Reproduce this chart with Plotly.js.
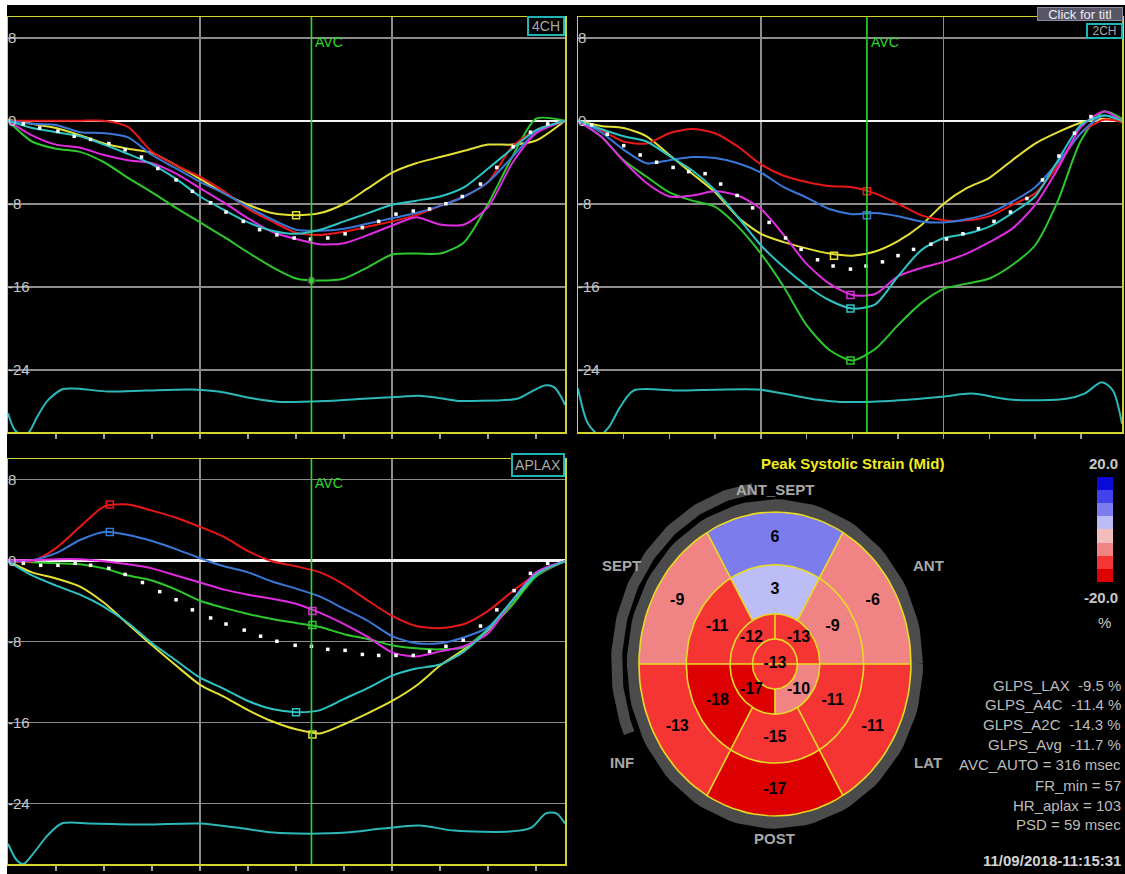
<!DOCTYPE html>
<html><head><meta charset="utf-8">
<script src="https://cdn.plot.ly/plotly-3.0.1.min.js"></script>
<style>html,body{margin:0;padding:0;background:#000;}#chart{width:1125px;height:874px;}</style>
</head><body><div id="chart"></div>
<script>
// ---------------- DATA ----------------
const avcMs = 316;
// 4CH
const time4CH = [0,25,50,75,100,125,150,175,200,225,250,275,300,325,350,375,400,425,450,475,500,525,550,580];
const red4CH = [0,0,0,0,0,-0.6,-3.0,-4.3,-5.4,-6.8,-8.5,-9.7,-10.8,-11.0,-10.7,-10.2,-9.7,-9.1,-8.2,-7.3,-5.9,-2.5,-0.9,0];
const blue4CH = [0,-0.3,-0.4,-1.1,-1.2,-1.6,-3.3,-4.6,-5.9,-7.0,-8.3,-9.5,-10.5,-10.6,-10.4,-9.9,-9.4,-8.9,-8.2,-7.3,-5.9,-3.5,-1.1,0];
const magenta4CH = [0,-1.4,-2.3,-2.6,-3.3,-3.8,-4.1,-5.1,-6.5,-7.9,-9.4,-10.7,-11.4,-11.9,-11.8,-11.0,-10.1,-9.3,-10.0,-10.0,-8.3,-4.1,-1.2,0];
const green4CH = [0,-2.0,-2.7,-3.0,-4.0,-5.5,-6.9,-8.4,-9.8,-11.2,-12.7,-14.1,-15.2,-15.4,-15.2,-14.1,-12.9,-12.8,-12.8,-11.7,-8.0,-3.5,0.2,0];
const cyan4CH = [0,-0.7,-1.1,-1.5,-2.3,-3.2,-4.2,-5.6,-7.3,-8.6,-9.8,-10.6,-10.9,-10.5,-9.7,-8.9,-8.1,-7.7,-7.3,-6.4,-4.6,-2.7,-0.9,0];
const yellow4CH = [0.1,-0.3,-0.7,-1.4,-2.2,-2.7,-3.1,-4.3,-5.6,-7.0,-8.1,-8.9,-9.1,-8.9,-8.0,-6.5,-5.0,-4.1,-3.5,-2.9,-2.3,-2.3,-1.9,0];
const avgTime4CH = [16,33,52,69,86,105,122,139,156,175,192,211,227,245,262,280,298,315,333,351,369,386,404,422,439,456,473,492,509,526,544,562];
const avg4CH = [-0.3,-0.7,-1.0,-1.5,-1.8,-2.2,-2.8,-3.5,-4.6,-5.7,-6.8,-7.9,-8.8,-9.7,-10.5,-11.0,-11.3,-11.4,-11.3,-10.9,-10.3,-9.7,-9.0,-8.7,-8.5,-8.0,-7.3,-6.1,-4.5,-2.5,-1.1,-0.3];
const ecgTime4CH = [0,7,15,22,30,41,56,68,105,143,192,219,257,283,333,370,409,428,447,469,485,530,545,560,569,577,580];
const ecg4CH = [-28.2,-29.8,-30.3,-30.0,-28.6,-27.0,-25.9,-25.8,-26.1,-26.0,-25.9,-26.1,-26.8,-27.1,-27.0,-26.8,-26.6,-26.5,-26.7,-27.0,-27.0,-26.8,-26.1,-25.5,-25.7,-26.8,-27.4];
const peakTime4CH = [300,316];
const peak4CH = [-9.1,-15.4];
const peakColor4CH = ['yellow','green'];

// 2CH
const time2CH = [0,25,50,75,100,125,150,175,200,225,250,275,300,325,350,375,400,425,450,475,500,525,550,575,595];
const red2CH = [0,-0.9,-2.0,-2.2,-1.2,-0.8,-1.2,-2.5,-4.2,-5.3,-5.9,-6.3,-6.4,-7.0,-8.0,-9.1,-9.6,-9.6,-9.2,-8.1,-7.0,-4.3,-1.2,0.1,-0.1];
const blue2CH = [0,-1.1,-2.8,-4.1,-3.8,-3.5,-3.6,-4.1,-5.0,-6.4,-7.4,-8.5,-9.0,-8.9,-9.2,-9.7,-9.8,-9.5,-8.9,-7.8,-6.4,-4.0,-1.2,0.5,0];
const magenta2CH = [0,-1.5,-3.9,-6.0,-7.3,-7.2,-6.8,-7.2,-8.5,-11.0,-13.8,-15.7,-16.8,-16.7,-15.0,-14.2,-13.6,-12.8,-11.7,-10.4,-8.1,-4.6,-0.6,0.9,0];
const cyan2CH = [0,-0.8,-1.5,-2.0,-3.4,-4.8,-6.7,-9.3,-12.0,-14.1,-15.9,-17.3,-18.1,-17.7,-15.0,-12.5,-11.3,-10.9,-10.2,-8.9,-7.3,-3.8,-0.4,0.5,0];
const green2CH = [0,-1.5,-3.8,-5.4,-6.9,-7.7,-8.3,-10.2,-12.8,-16.0,-19.7,-22.1,-23.1,-22.0,-19.7,-17.6,-16.2,-15.7,-15.2,-13.9,-12.0,-7.7,-1.9,0.9,0.2];
const yellow2CH = [0,-0.5,-0.7,-1.5,-3.3,-5.1,-6.9,-9.3,-10.9,-11.7,-12.3,-12.8,-13.0,-12.6,-11.6,-10.1,-8.0,-6.5,-5.5,-3.8,-2.2,-1.1,-0.2,0.2,-0.1];
const avgTime2CH = [15,32,50,68,86,104,121,139,156,174,191,209,227,244,262,279,298,315,333,350,367,386,403,421,438,455,473,491,508,526,543,561];
const avg2CH = [-0.4,-1.3,-2.4,-3.3,-4.0,-4.5,-4.9,-5.1,-6.1,-7.2,-8.4,-9.8,-11.3,-12.4,-13.4,-14.0,-14.3,-14.0,-13.6,-13.0,-12.4,-11.9,-11.4,-10.9,-10.4,-9.7,-8.8,-7.5,-5.7,-3.4,-1.2,0.4];
const ecgTime2CH = [0,11,24,34,46,61,108,197,224,263,286,340,398,430,476,534,554,573,585,595];
const ecg2CH = [-25.8,-29.2,-30.3,-29.5,-27.6,-26.0,-26.0,-25.9,-26.3,-26.9,-27.1,-27.0,-26.6,-26.3,-26.9,-26.8,-26.3,-25.2,-26.0,-29.2];
const peakTime2CH = [280,298,298,298,316,316];
const peak2CH = [-13.0,-16.8,-18.1,-23.1,-9.1,-6.8];
const peakColor2CH = ['yellow','magenta','cyan','green','blue','red'];

// APLAX
const timeLAX = [0,25,50,75,100,125,150,175,200,225,250,275,300,325,350,375,400,425,450,475,500,525,550,580];
const redLAX = [-0.1,-0.1,1.2,3.3,5.3,5.5,4.9,4.2,3.3,2.3,0.9,-0.1,-0.6,-1.2,-2.4,-4.0,-5.5,-6.5,-6.7,-6.3,-5.0,-3.1,-1.4,-0.1];
const blueLAX = [-0.1,0,0.7,2.0,2.8,2.5,1.9,1.1,0.2,-0.6,-1.2,-2.1,-2.8,-3.6,-4.8,-6.0,-7.5,-8.2,-8.2,-7.6,-6.6,-4.0,-1.2,-0.1];
const magentaLAX = [0,0,0.1,0.1,-0.1,-0.4,-0.8,-1.5,-2.2,-2.9,-3.4,-3.8,-4.3,-5.2,-6.3,-7.6,-9.1,-9.5,-9.0,-8.5,-7.2,-4.0,-1.2,-0.1];
const greenLAX = [-0.1,-0.2,-0.3,-0.4,-0.8,-1.5,-2.0,-2.9,-4.0,-4.7,-5.3,-5.8,-6.2,-6.6,-7.3,-7.8,-8.4,-8.7,-8.8,-8.6,-6.8,-4.4,-1.6,-0.1];
const cyanLAX = [-0.1,-1.5,-2.5,-3.4,-4.6,-6.2,-8.2,-9.9,-11.6,-12.7,-13.9,-14.7,-15.0,-14.8,-13.7,-12.6,-11.4,-10.7,-10.3,-9.0,-6.8,-4.0,-1.4,-0.1];
const yellowLAX = [-0.1,-1.2,-1.8,-2.6,-4.2,-6.3,-8.4,-10.4,-12.3,-13.5,-14.8,-15.9,-16.7,-17.1,-16.2,-15.1,-13.9,-12.4,-10.4,-8.8,-6.9,-4.4,-1.4,-0.1];
const avgTimeLAX = [16,34,52,70,86,105,122,140,158,175,192,211,227,246,263,280,299,316,333,351,369,386,404,422,439,456,474,492,509,527,544,562];
const avgLAX = [-0.3,-0.5,-0.5,-0.3,-0.5,-0.8,-1.4,-2.2,-3.1,-3.9,-4.9,-5.7,-6.3,-6.9,-7.5,-8.0,-8.4,-8.5,-8.8,-8.9,-9.3,-9.4,-9.4,-9.4,-9.0,-8.5,-7.9,-6.5,-4.9,-3.0,-1.3,-0.3];
const ecgTimeLAX = [0,9,16,26,41,56,86,143,200,238,276,314,352,390,428,465,522,545,560,571,580];
const ecgLAX = [-28.0,-29.6,-30.0,-29.0,-27.2,-26.0,-26.0,-26.1,-26.0,-26.4,-26.9,-27.0,-26.9,-26.5,-26.2,-26.7,-26.8,-26.4,-25.0,-25.0,-26.0];
const peakTimeLAX = [106,106,317,300,317,317];
const peakLAX = [5.5,2.8,-6.4,-15.0,-17.2,-5.0];
const peakColorLAX = ['red','blue','green','cyan','yellow','magenta'];

const yTickVals = [8,0,-8,-16,-24];
const yTickText = ['8','0','-8','-16','-24'];
const viewNames = ['4CH','2CH','APLAX'];

// Bullseye (peak systolic strain, %)
const wallNames = ['ANT_SEPT','ANT','LAT','POST','INF','SEPT'];
const basalStrain = [6,-6,-11,-17,-13,-9];
const midStrain = [3,-9,-11,-15,-18,-11];
const apicalStrain = [-13,-10,-17,-12];
const apexStrain = -13;
const scaleMin = -20, scaleMax = 20;
const scaleColors = ['#dc0000','#f53434','#f08484','#f5bcbc','#bcbcf6','#7c7cee','#4242ec','#0a0ad8'];
const statLines = ['GLPS_LAX\u00a0\u00a0-9.5 %','GLPS_A4C\u00a0\u00a0-11.4 %','GLPS_A2C\u00a0\u00a0-14.3 %','GLPS_Avg\u00a0\u00a0-11.7 %','AVC_AUTO = 316 msec','FR_min = 57','HR_aplax = 103','PSD = 59 msec'];
const stampText = '11/09/2018-11:15:31';

// ---------------- STYLE / LAYOUT ----------------
const W = 1125, H = 874;
const PX = p => p / W, PY = p => 1 - p / H;
const COL = {red:'#e81818', blue:'#3a78d8', magenta:'#e02ce0', green:'#2cc82c', cyan:'#2cc4c4', yellow:'#e4e034', white:'#ffffff', ecg:'#2cb8b8'};
const FONT = 'Liberation Sans, Arial, sans-serif';
const traces = [];

function panel(xa, ya, t, series, avgT, avg, ecgT, ecg, pT, pV, pC) {
  series.forEach(([vals, c]) => traces.push({type:'scatter', mode:'lines', x:t, y:vals, xaxis:xa, yaxis:ya,
    line:{color:COL[c], width:2, shape:'spline', smoothing:0.7}, hoverinfo:'skip'}));
  traces.push({type:'scatter', mode:'lines', x:ecgT, y:ecg, xaxis:xa, yaxis:ya,
    line:{color:COL.ecg, width:2, shape:'spline', smoothing:0.8}, hoverinfo:'skip'});
  traces.push({type:'scatter', mode:'markers', x:avgT, y:avg, xaxis:xa, yaxis:ya,
    marker:{color:'#ffffff', size:3.5, symbol:'square'}, hoverinfo:'skip'});
  traces.push({type:'scatter', mode:'markers', x:pT, y:pV, xaxis:xa, yaxis:ya,
    marker:{color:pC.map(c=>COL[c]), size:7, symbol:pC.map(c => (xa === 'x' && c === 'green') ? 'circle' : 'square-open'),
      line:{width:1.5}}, hoverinfo:'skip'});
}
panel('x','y', time4CH, [[yellow4CH,'yellow'],[green4CH,'green'],[red4CH,'red'],[blue4CH,'blue'],[magenta4CH,'magenta'],[cyan4CH,'cyan']],
  avgTime4CH, avg4CH, ecgTime4CH, ecg4CH, peakTime4CH, peak4CH, peakColor4CH);
panel('x2','y2', time2CH, [[yellow2CH,'yellow'],[green2CH,'green'],[red2CH,'red'],[blue2CH,'blue'],[magenta2CH,'magenta'],[cyan2CH,'cyan']],
  avgTime2CH, avg2CH, ecgTime2CH, ecg2CH, peakTime2CH, peak2CH, peakColor2CH);
panel('x3','y3', timeLAX, [[yellowLAX,'yellow'],[greenLAX,'green'],[redLAX,'red'],[blueLAX,'blue'],[magentaLAX,'magenta'],[cyanLAX,'cyan']],
  avgTimeLAX, avgLAX, ecgTimeLAX, ecgLAX, peakTimeLAX, peakLAX, peakColorLAX);

// ----- bullseye -----
const R = [1, 0.652, 0.33, 0.165];
const deg = Math.PI / 180;
function binColor(v) {
  let i = Math.floor((v - scaleMin) / ((scaleMax - scaleMin) / scaleColors.length));
  i = Math.max(0, Math.min(scaleColors.length - 1, i));
  return scaleColors[i];
}
function sector(r0, r1, a0, a1) {
  const xs = [], ys = [], n = 30;
  for (let k = 0; k <= n; k++) { const a = (a0 + (a1 - a0) * k / n) * deg; xs.push(r1 * Math.cos(a)); ys.push(r1 * Math.sin(a)); }
  for (let k = n; k >= 0; k--) { const a = (a0 + (a1 - a0) * k / n) * deg; xs.push(r0 * Math.cos(a)); ys.push(r0 * Math.sin(a)); }
  return [xs, ys];
}
function arc(r, a0, a1) {
  const xs = [], ys = [], n = 120;
  for (let k = 0; k <= n; k++) { const a = (a0 + (a1 - a0) * k / n) * deg; xs.push(r * Math.cos(a)); ys.push(r * Math.sin(a)); }
  return [xs, ys];
}
// gray rings
let g = arc(1.045, 0, 360);
traces.push({type:'scatter', mode:'lines', x:g[0], y:g[1], xaxis:'x4', yaxis:'y4', line:{color:'#4b4b4b', width:12}, hoverinfo:'skip'});
g = arc(1.165, 98, 203);
traces.push({type:'scatter', mode:'lines', x:g[0], y:g[1], xaxis:'x4', yaxis:'y4', line:{color:'#4b4b4b', width:11}, hoverinfo:'skip'});

const labX = [], labY = [], labV = [];
function addSeg(r0, r1, c, half, v, rl) {
  const s = sector(r0, r1, c - half, c + half);
  traces.push({type:'scatter', mode:'lines', x:s[0], y:s[1], xaxis:'x4', yaxis:'y4', fill:'toself',
    fillcolor:binColor(v), line:{width:0, color:binColor(v)}, hoverinfo:'skip'});
  labX.push(rl * Math.cos(c * deg)); labY.push(rl * Math.sin(c * deg)); labV.push(v);
}
basalStrain.forEach((v, i) => addSeg(R[1], R[0], 90 - 60 * i, 30, v, 0.83));
midStrain.forEach((v, i) => addSeg(R[2], R[1], 90 - 60 * i, 30, v, 0.49));
apicalStrain.forEach((v, i) => addSeg(R[3], R[2], 45 - 90 * i, 45, v, 0.245));
addSeg(0, R[3], 0, 180, apexStrain, 0);

// yellow segment lines
const yl = {x:[], y:[]};
function push(xs, ys) { yl.x.push(...xs, null); yl.y.push(...ys, null); }
R.forEach(r => { const a = arc(r, 0, 360); push(a[0], a[1]); });
push([-1, 1], [0, 0]);
push([0, 0], [R[3], R[2]]); push([0, 0], [-R[3], -R[2]]);
[60, 120, 240, 300].forEach(a => push([R[2] * Math.cos(a * deg), Math.cos(a * deg)], [R[2] * Math.sin(a * deg), Math.sin(a * deg)]));
traces.push({type:'scatter', mode:'lines', x:yl.x, y:yl.y, xaxis:'x4', yaxis:'y4', line:{color:'#e8dc24', width:1.6}, hoverinfo:'skip', connectgaps:false});

// labels + colorbar
const cs = [];
scaleColors.forEach((c, i) => { cs.push([i / scaleColors.length, c]); cs.push([(i + 1) / scaleColors.length, c]); });
traces.push({type:'scatter', mode:'markers+text', x:labX, y:labY, xaxis:'x4', yaxis:'y4',
  text:labV.map(String), textposition:'middle center',
  textfont:{family:FONT, size:16, color:'#000000', weight:'bold'},
  marker:{size:1, opacity:0, color:labV, colorscale:cs, cmin:scaleMin, cmax:scaleMax, showscale:true,
    colorbar:{x:PX(1097), xanchor:'left', xref:'paper', y:PY(529.5), yanchor:'middle', yref:'paper',
      len:105, lenmode:'pixels', thickness:16, thicknessmode:'pixels', outlinewidth:0, showticklabels:false,
      ticks:'', xpad:0, ypad:0, borderwidth:0, bgcolor:'rgba(0,0,0,0)'}},
  hoverinfo:'skip'});

// ---------------- AXES ----------------
function xAxis(dom, maxT, anchor) {
  return {domain:dom, range:[0, maxT], anchor, showgrid:true, gridcolor:'#8c8c8c', gridwidth:1.5,
    dtick:200, tick0:0, ticks:'outside', ticklen:5, tickcolor:'#a0a0a0', tickwidth:1.5,
    minor:{dtick:50, tick0:0, ticks:'outside', ticklen:5, tickcolor:'#a0a0a0', tickwidth:1.5, showgrid:false},
    showticklabels:false, zeroline:false, showline:true, mirror:true, linecolor:'#d4d430', linewidth:1.5, fixedrange:true};
}
function yAxis(dom, anchor) {
  return {domain:dom, range:[-30, 10], anchor, tickvals:yTickVals, ticktext:yTickText, ticks:'',
    ticklabelposition:'inside', tickfont:{family:FONT, size:15, color:'#c8c8c8'},
    showgrid:true, gridcolor:'#8c8c8c', gridwidth:1.5, zeroline:true, zerolinecolor:'#f4f4f4', zerolinewidth:2.5,
    showline:true, mirror:true, linecolor:'#d4d430', linewidth:1.5, fixedrange:true};
}
const domTop = [PY(432), PY(17)], domBot = [PY(864), PY(459)];
const layout = {
  width:W, height:H, margin:{l:0, r:0, t:0, b:0, pad:0}, autosize:false, showlegend:false,
  paper_bgcolor:'#000000', plot_bgcolor:'#000000', font:{family:FONT, color:'#c8c8c8'},
  xaxis:xAxis([PX(8), PX(565)], 580, 'y'), yaxis:yAxis(domTop, 'x'),
  xaxis2:xAxis([PX(578), PX(1122)], 595, 'y2'), yaxis2:yAxis(domTop, 'x2'),
  xaxis3:xAxis([PX(8), PX(565)], 580, 'y3'), yaxis3:yAxis(domBot, 'x3'),
  xaxis4:{domain:[PX(570), 1], range:[-1.507, 2.574], visible:false, anchor:'y4', fixedrange:true},
  yaxis4:{domain:[0, 1 - 445 / H], range:[-1.382, 1.441], visible:false, anchor:'x4', fixedrange:true},
  shapes:[], annotations:[]
};
function ann(o) { layout.annotations.push(Object.assign({showarrow:false, xanchor:'center', yanchor:'middle'}, o)); }
// AVC lines + labels
[['x','y'],['x2','y2'],['x3','y3']].forEach(([xa, ya]) => {
  layout.shapes.push({type:'line', xref:xa, yref:ya + ' domain', x0:avcMs, x1:avcMs, y0:0, y1:1, line:{color:'#2ed82e', width:1.6}});
  ann({xref:xa, yref:ya, x:avcMs, y:7.6, text:'AVC', xanchor:'left', xshift:2, font:{family:FONT, size:14, color:'#2ed82e'}});
});
// white page edges
layout.shapes.push({type:'rect', xref:'paper', yref:'paper', x0:0, x1:1, y0:PY(5), y1:1, fillcolor:'#ffffff', line:{width:0}});
layout.shapes.push({type:'rect', xref:'paper', yref:'paper', x0:0, x1:PX(7), y0:0, y1:1, fillcolor:'#ffffff', line:{width:0}});
// view label boxes
function box(text, cx, cy, w, h, fs) {
  ann({xref:'paper', yref:'paper', x:PX(cx), y:PY(cy), text, width:w, height:h,
    bordercolor:'#22b4b4', borderwidth:2, borderpad:0, bgcolor:'#000000', font:{family:FONT, size:fs, color:'#a8a8a8'}});
}
box(viewNames[0], 546, 26, 34, 16, 14);
box(viewNames[1], 1104, 31, 33, 12, 12);
box(viewNames[2], 538, 464.5, 50, 20, 14);
ann({xref:'paper', yref:'paper', x:PX(1080), y:PY(14), text:'Click for titl',
  width:84, height:12, bgcolor:'#565666', bordercolor:'#8a8aa0', borderwidth:1, borderpad:0,
  font:{family:FONT, size:13, color:'#eeeef8'}});
// bullseye title & wall labels
ann({xref:'paper', yref:'paper', x:PX(852), y:PY(464), text:'Peak Systolic Strain (Mid)',
  font:{family:FONT, size:15, color:'#f0ec22', weight:'bold'}});
const wallPos = [[90,1.15],[30,1.3],[330,1.3],[270,1.15],[210,1.3],[150,1.3]];
wallNames.forEach((n, i) => {
  const [a, r] = wallPos[i];
  ann({xref:'x4', yref:'y4', x:r * Math.cos(a * deg), y:r * Math.sin(a * deg), text:n,
    font:{family:FONT, size:15, color:'#a8a8a8', weight:'bold'}});
});
// colorbar labels
ann({xref:'paper', yref:'paper', x:PX(1103), y:PY(463), text:scaleMax.toFixed(1), font:{family:FONT, size:15, color:'#c8c8c8', weight:'bold'}});
ann({xref:'paper', yref:'paper', x:PX(1101), y:PY(597), text:scaleMin.toFixed(1), font:{family:FONT, size:15, color:'#c8c8c8', weight:'bold'}});
ann({xref:'paper', yref:'paper', x:PX(1104), y:PY(622), text:'%', font:{family:FONT, size:15, color:'#c8c8c8'}});
// stats
const statY = [685, 704, 724, 744.5, 764.5, 785, 805, 824.5];
statLines.forEach((s, i) => ann({xref:'paper', yref:'paper', x:PX(1123), y:PY(statY[i]), xanchor:'right', text:s,
  font:{family:FONT, size:15, color:'#bcbcbc'}}));
ann({xref:'paper', yref:'paper', x:PX(1123), y:PY(860), xanchor:'right', text:stampText,
  font:{family:FONT, size:15, color:'#d4d4d4', weight:'bold'}});

Plotly.newPlot('chart', traces, layout, {displayModeBar:false, staticPlot:true});
</script></body></html>
